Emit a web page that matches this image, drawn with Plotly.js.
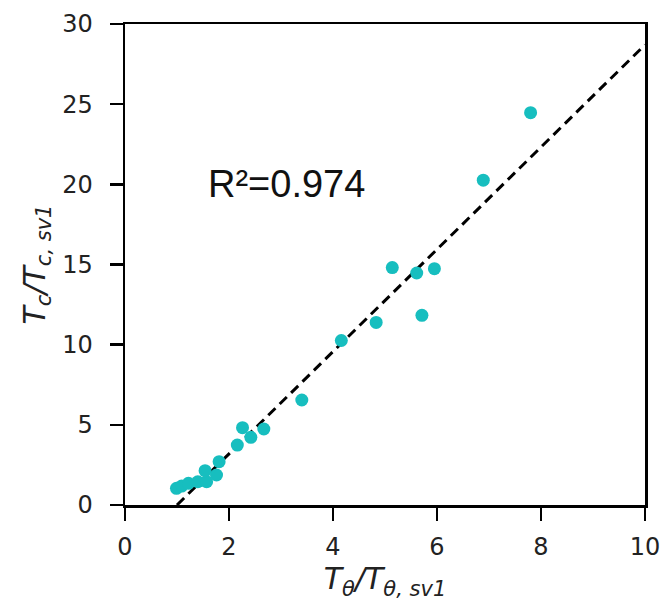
<!DOCTYPE html>
<html>
<head>
<meta charset="utf-8">
<script src="https://cdn.plot.ly/plotly-3.0.1.min.js"></script>
<style>html,body{margin:0;padding:0;background:#fff;}</style>
</head>
<body>
<div id="chart" style="width:663px;height:604px;"></div>
<script>
// Scatter data
const ratioTheta = [0.99, 1.09, 1.22, 1.40, 1.57, 1.54, 1.76, 1.81, 2.16, 2.42, 2.26, 2.67, 3.40, 4.16, 4.83, 5.71, 5.14, 5.61, 5.95, 6.89, 7.80];
const ratioC     = [1.04, 1.18, 1.35, 1.45, 1.45, 2.14, 1.87, 2.70, 3.74, 4.22, 4.82, 4.74, 6.55, 10.26, 11.39, 11.83, 14.81, 14.47, 14.74, 20.26, 24.47];
// Fit line endpoints
const fitX = [1.0, 10.0];
const fitY = [0.0, 28.7];
const annText = 'R²=0.974';
const xTicks = [0, 2, 4, 6, 8, 10];
const yTicks = [0, 5, 10, 15, 20, 25, 30];

const data = [
  {x: fitX, y: fitY, mode: 'lines', line: {color: '#000', width: 3, dash: '10px,6px'}, hoverinfo: 'skip'},
  {x: ratioTheta, y: ratioC, mode: 'markers', marker: {color: '#17BEBF', size: 13}}
];
const axisCommon = {
  showgrid: false, zeroline: false, showline: true, mirror: true,
  linecolor: '#000', linewidth: 2.5, ticks: 'outside', ticklen: 13, tickwidth: 2.5, tickcolor: '#000',
  tickfont: {family: 'DejaVu Sans', size: 24, color: '#222'},
  automargin: false
};
const layout = {
  width: 663, height: 604,
  margin: {l: 125, r: 18, t: 24, b: 99},
  showlegend: false,
  paper_bgcolor: '#fff', plot_bgcolor: '#fff',
  xaxis: Object.assign({}, axisCommon, {
    range: [0, 10], tickvals: xTicks, ticktext: xTicks.map(String), ticklabelstandoff: 6,
    title: {text: '<i>T<sub>θ</sub>/T<sub>θ, sv1</sub></i>', font: {family: 'DejaVu Sans', size: 30, color: '#222'}, standoff: 6}
  }),
  yaxis: Object.assign({}, axisCommon, {
    range: [0, 30], tickvals: yTicks, ticktext: yTicks.map(String), ticklabelstandoff: 12,
    title: {text: '<i>T<sub>c</sub>/T<sub>c, sv1</sub></i>', font: {family: 'DejaVu Sans', size: 30, color: '#222'}, standoff: 8}
  }),
  annotations: [{
    x: 1.56, y: 20.0, xref: 'x', yref: 'y', xanchor: 'left', yanchor: 'middle',
    text: annText, showarrow: false,
    font: {family: 'Liberation Sans', size: 38, color: '#111'}
  }]
};
Plotly.newPlot('chart', data, layout, {displayModeBar: false, staticPlot: true});
</script>
</body>
</html>
